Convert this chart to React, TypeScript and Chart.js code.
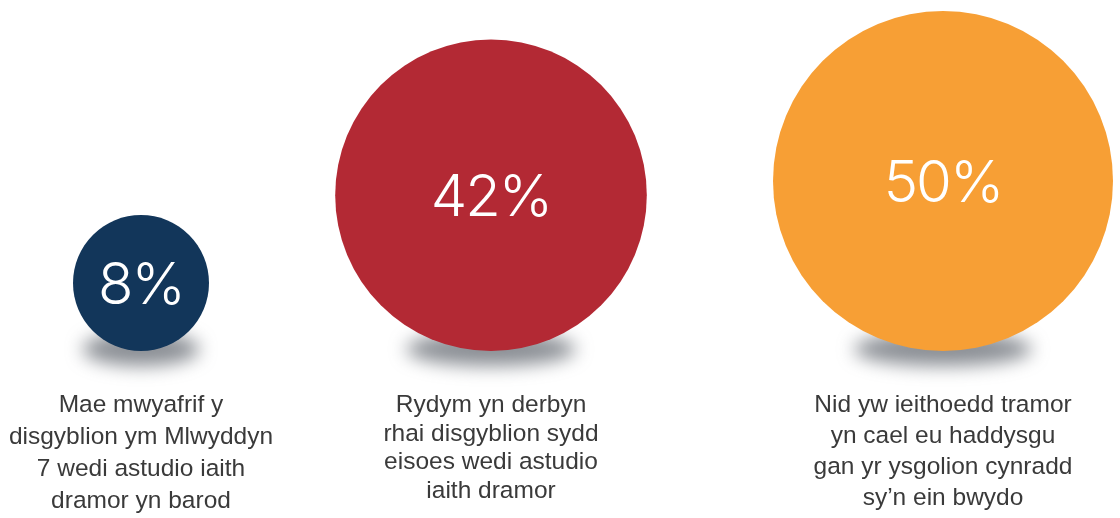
import React, { useEffect, useRef } from "react";
import { Chart, registerables } from "chart.js";

Chart.register(...registerables);

// ---- data ----
const categories = ["Blwyddyn 7 / iaith dramor", "Derbyn disgyblion", "Ysgolion cynradd"];
const percentValues = [8, 42, 50];
const percentLabels = ["8%", "42%", "50%"];
const captionLines = [
  ["Mae mwyafrif y", "disgyblion ym Mlwyddyn", "7 wedi astudio iaith", "dramor yn barod"],
  ["Rydym yn derbyn", "rhai disgyblion sydd", "eisoes wedi astudio", "iaith dramor"],
  ["Nid yw ieithoedd tramor", "yn cael eu haddysgu", "gan yr ysgolion cynradd", "sy\u2019n ein bwydo"],
];
const bubbleColors = ["#12365A", "#B32934", "#F79F35"];

// ---- layout constants ----
const W = 1120;
const H = 518;
const MAX_R = 170; // radius of the largest bubble (area ∝ value)
const ROW_LEFT = 73; // row of bubbles spans ROW_LEFT..ROW_RIGHT
const ROW_RIGHT = 1113;
const BASELINE = 351; // bubbles rest on this line
const CAPTION_TOP = 412;
const CAPTION_LINE_H = [32, 28.5, 31];

function buildPoints() {
  const vmax = Math.max(...percentValues);
  const radii = percentValues.map((v) => MAX_R * Math.sqrt(v / vmax));
  const total = radii.reduce((a, r) => a + 2 * r, 0);
  const gap = (ROW_RIGHT - ROW_LEFT - total) / (radii.length - 1);
  let cursor = ROW_LEFT;
  return radii.map((r) => {
    const x = cursor + r;
    cursor += 2 * r + gap;
    return { x, y: BASELINE - r, r };
  });
}

const shadowPlugin = {
  id: "bubbleShadow",
  beforeDatasetsDraw(chart: any) {
    const ctx = chart.ctx;
    const meta = chart.getDatasetMeta(0);
    meta.data.forEach((el: any) => {
      const r = el.options.radius;
      const rx = 38 + 0.3 * r;
      ctx.save();
      ctx.filter = "blur(9px)";
      ctx.fillStyle = "rgba(90,95,104,0.7)";
      ctx.beginPath();
      ctx.ellipse(el.x, el.y + r - 2, rx, 17, 0, 0, Math.PI * 2);
      ctx.fill();
      ctx.restore();
    });
  },
};

const labelPlugin = {
  id: "bubbleLabels",
  afterDatasetsDraw(chart: any) {
    const ctx = chart.ctx;
    const meta = chart.getDatasetMeta(0);
    meta.data.forEach((el: any, i: number) => {
      ctx.save();
      ctx.fillStyle = "#ffffff";
      ctx.font = '300 58px Inter, Roboto, "Liberation Sans", sans-serif';
      try {
        (ctx as any).letterSpacing = "-2px";
      } catch (e) {}
      ctx.textAlign = "center";
      ctx.textBaseline = "alphabetic";
      ctx.fillText(percentLabels[i], el.x, el.y + 21);
      try {
        (ctx as any).letterSpacing = "0px";
      } catch (e) {}

      ctx.fillStyle = "#3a3a3a";
      ctx.font = '24.5px "Liberation Sans", Arial, sans-serif';
      const lh = CAPTION_LINE_H[i];
      captionLines[i].forEach((line, j) => {
        ctx.fillText(line, el.x, CAPTION_TOP + j * lh);
      });
      ctx.restore();
    });
  },
};

export default function App() {
  const canvasRef = useRef<HTMLCanvasElement | null>(null);

  useEffect(() => {
    document.body.style.margin = "0";
    const canvas = canvasRef.current;
    if (!canvas) return;
    const points = buildPoints();
    const chart = new Chart(canvas, {
      type: "bubble",
      data: {
        labels: categories,
        datasets: [
          {
            label: "Canran",
            data: points,
            backgroundColor: bubbleColors,
            borderWidth: 0,
            hoverRadius: 0,
            clip: false,
          } as any,
        ],
      },
      options: {
        animation: false,
        responsive: true,
        maintainAspectRatio: false,
        events: [],
        layout: { padding: 0, autoPadding: false },
        plugins: {
          legend: { display: false },
          tooltip: { enabled: false },
        },
        scales: {
          x: { type: "linear", min: 0, max: W, display: false },
          y: { type: "linear", min: 0, max: H, reverse: true, display: false },
        },
      } as any,
      plugins: [shadowPlugin, labelPlugin],
    });
    return () => chart.destroy();
  }, []);

  return (
    <div style={{ position: "absolute", left: 0, top: 0, width: W, height: H, background: "#ffffff" }}>
      <canvas ref={canvasRef} />
    </div>
  );
}
